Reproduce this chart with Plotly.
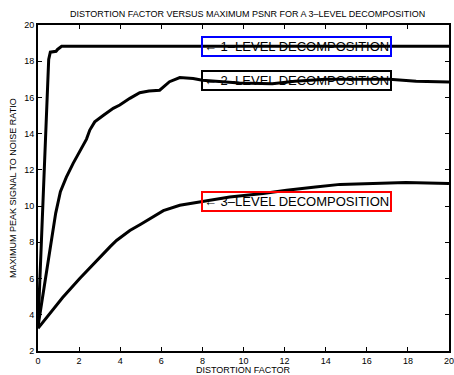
import plotly.graph_objects as go

# ---- data ----
level1_x = [0, 0.52, 0.6, 0.88, 0.95, 1.15, 20]
level1_y = [3.35, 18.1, 18.5, 18.55, 18.65, 18.82, 18.82]

level2_x = [0, 0.86, 1.09, 1.38, 1.71, 2.03, 2.36, 2.52, 2.76, 3.17, 3.66, 3.98, 4.47, 4.95,
            5.4, 5.92, 6.4, 6.9, 7.55, 8.0, 8.7, 9.8, 11.4, 12.5, 14.0, 17.1, 18.4, 19.4, 20]
level2_y = [3.35, 9.6, 10.8, 11.6, 12.36, 13.0, 13.7, 14.2, 14.65, 15.0, 15.4, 15.58, 15.95, 16.26,
            16.35, 16.4, 16.87, 17.1, 17.05, 16.95, 16.88, 16.8, 16.75, 16.9, 17.0, 17.0, 16.9, 16.85, 16.85]

level3_x = [0, 1.2, 2.03, 2.85, 3.5, 3.82, 4.47, 5.0, 5.44, 6.1, 6.9, 7.87, 9.33, 10.95,
            12.1, 13.5, 14.7, 16.3, 17.9, 20]
level3_y = [3.25, 4.95, 6.0, 7.0, 7.75, 8.1, 8.65, 9.0, 9.3, 9.75, 10.05, 10.24, 10.5, 10.7,
            10.88, 11.05, 11.2, 11.25, 11.3, 11.25]

x_ticks = [0, 2, 4, 6, 8, 10, 12, 14, 16, 18, 20]
y_ticks = [2, 4, 6, 8, 10, 12, 14, 16, 18, 20]

label_texts = ["\u2190 1\u2013LEVEL DECOMPOSITION",
               "\u2190 2\u2013LEVEL DECOMPOSITION",
               "\u2190 3\u2013LEVEL DECOMPOSITION"]
label_x = [7.95, 7.95, 7.95]
label_y = [18.82, 16.92, 10.24]
label_colors = ["#0000ff", "#000000", "#ff0000"]

FONT = "Liberation Sans, Arial, Helvetica, sans-serif"

fig = go.Figure()
for xs, ys in [(level1_x, level1_y), (level2_x, level2_y), (level3_x, level3_y)]:
    fig.add_trace(go.Scatter(x=xs, y=ys, mode="lines",
                             line=dict(color="black", width=3), showlegend=False,
                             hoverinfo="skip"))

annotations = []
for t, lx, ly, c in zip(label_texts, label_x, label_y, label_colors):
    annotations.append(dict(x=lx, y=ly, xref="x", yref="y", text=t, showarrow=False,
                            xanchor="left", yanchor="middle",
                            font=dict(family=FONT, size=13, color="black"),
                            bordercolor=c, borderwidth=2, borderpad=1))
annotations.append(dict(x=0.5, y=0, xref="paper", yref="paper", yshift=-18.5,
                        text="DISTORTION FACTOR", showarrow=False,
                        xanchor="center", yanchor="middle", font=dict(size=9)))
annotations.append(dict(x=0, y=0.5, xref="paper", yref="paper", xshift=-25,
                        text="MAXIMUM PEAK SIGNAL TO NOISE RATIO", showarrow=False,
                        textangle=-90, xanchor="center", yanchor="middle", font=dict(size=9)))

fig.update_layout(
    width=454, height=375,
    margin=dict(l=38, r=5, t=25, b=24, autoexpand=False),
    paper_bgcolor="white", plot_bgcolor="white",
    font=dict(family=FONT, size=9, color="black"),
    title=dict(text="DISTORTION FACTOR VERSUS MAXIMUM PSNR FOR A 3\u2013LEVEL DECOMPOSITION",
               x=0.51, xref="paper", y=0.962, yref="container",
               xanchor="center", yanchor="middle",
               font=dict(size=9)),
    annotations=annotations,
)
fig.update_xaxes(range=[0, 20], tickvals=x_ticks, ticks="inside", ticklen=4, tickwidth=1,
                 tickcolor="black", showline=True, linewidth=2, linecolor="black",
                 mirror="ticks", showgrid=False, zeroline=False, automargin=False,
                 ticklabeloverflow="allow")
fig.update_yaxes(range=[2, 20], tickvals=y_ticks, ticks="inside", ticklen=4, tickwidth=1,
                 tickcolor="black", showline=True, linewidth=2, linecolor="black",
                 mirror="ticks", showgrid=False, zeroline=False, automargin=False,
                 ticklabeloverflow="allow")

fig.write_html("out.html", config={"displayModeBar": False},
               post_script="document.body.style.margin='0';document.body.style.padding='0';")
